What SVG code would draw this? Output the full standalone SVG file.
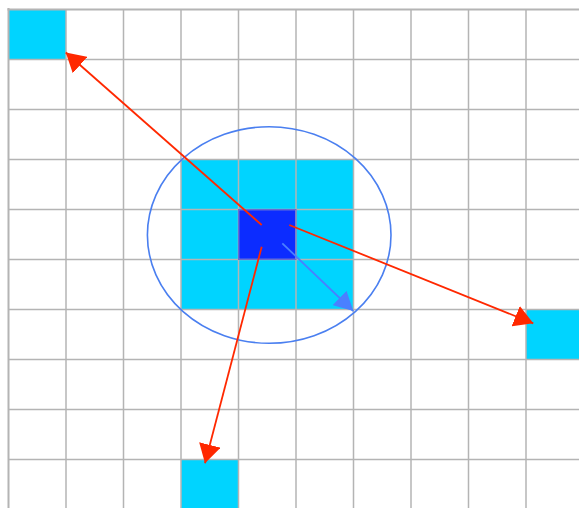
<svg xmlns="http://www.w3.org/2000/svg" width="579" height="508" viewBox="0 0 579 508">
<defs>
<style>
.grid line{stroke:#b4b4b4;stroke-width:1.5}
.cyan{fill:#00d4ff}
.red{stroke:#ff2800;stroke-width:1.8;fill:none}
.blue{stroke:#4a80ff;stroke-width:1.8;fill:none}
</style>
<marker id="ah-red" viewBox="0 0 19 22" refX="19" refY="11" markerWidth="19" markerHeight="22" markerUnits="userSpaceOnUse" orient="auto"><path d="M0,0 L19,11 L0,22 z" fill="#ff2800"/></marker>
<marker id="ah-blue" viewBox="0 0 19 20" refX="19" refY="10" markerWidth="19" markerHeight="20" markerUnits="userSpaceOnUse" orient="auto"><path d="M0,0 L19,10 L0,20 z" fill="#4a80ff"/></marker>
</defs>
<rect width="579" height="508" fill="#ffffff"/>
<g id="cells">
<rect class="cyan" x="8.5" y="9.5" width="57.5" height="50"/>
<rect class="cyan" x="181" y="159.5" width="172.5" height="150"/>
<rect x="238.5" y="209.5" width="57.5" height="50" fill="#0c2cff"/>
<rect class="cyan" x="526" y="309.5" width="57.5" height="50"/>
<rect class="cyan" x="181" y="459.5" width="57.5" height="50"/>
</g>
<g class="grid" id="grid">
<line x1="8.5" y1="8" x2="8.5" y2="508" style="stroke-width:2"/>
<line x1="66" y1="9" x2="66" y2="508"/>
<line x1="123.5" y1="9" x2="123.5" y2="508"/>
<line x1="181" y1="9" x2="181" y2="508"/>
<line x1="238.5" y1="9" x2="238.5" y2="508"/>
<line x1="296" y1="9" x2="296" y2="508"/>
<line x1="353.5" y1="9" x2="353.5" y2="508"/>
<line x1="411" y1="9" x2="411" y2="508"/>
<line x1="468.5" y1="9" x2="468.5" y2="508"/>
<line x1="526" y1="9" x2="526" y2="508"/>
<line x1="7.5" y1="9.5" x2="579" y2="9.5" style="stroke-width:2"/>
<line x1="8" y1="59.5" x2="579" y2="59.5"/>
<line x1="8" y1="109.5" x2="579" y2="109.5"/>
<line x1="8" y1="159.5" x2="579" y2="159.5"/>
<line x1="8" y1="209.5" x2="579" y2="209.5"/>
<line x1="8" y1="259.5" x2="579" y2="259.5"/>
<line x1="8" y1="309.5" x2="579" y2="309.5"/>
<line x1="8" y1="359.5" x2="579" y2="359.5"/>
<line x1="8" y1="409.5" x2="579" y2="409.5"/>
<line x1="8" y1="459.5" x2="579" y2="459.5"/>
</g>
<rect x="238.5" y="209.5" width="57.5" height="50" fill="none" stroke="#6a6ad0" stroke-width="1"/>
<g id="range">
<ellipse cx="269.2" cy="235" rx="121.8" ry="108.3" fill="none" stroke="#4a7ff0" stroke-width="1.6"/>
</g>
<g id="connectors">
<line class="red" x1="261.7" y1="225" x2="65.8" y2="52.5" marker-end="url(#ah-red)"/>
<line class="red" x1="289.3" y1="225" x2="533.3" y2="323.3" marker-end="url(#ah-red)"/>
<line class="red" x1="261.7" y1="246.7" x2="205" y2="463.3" marker-end="url(#ah-red)"/>
<line class="blue" x1="282.3" y1="243.3" x2="353.3" y2="311" marker-end="url(#ah-blue)"/>
</g>
</svg>
